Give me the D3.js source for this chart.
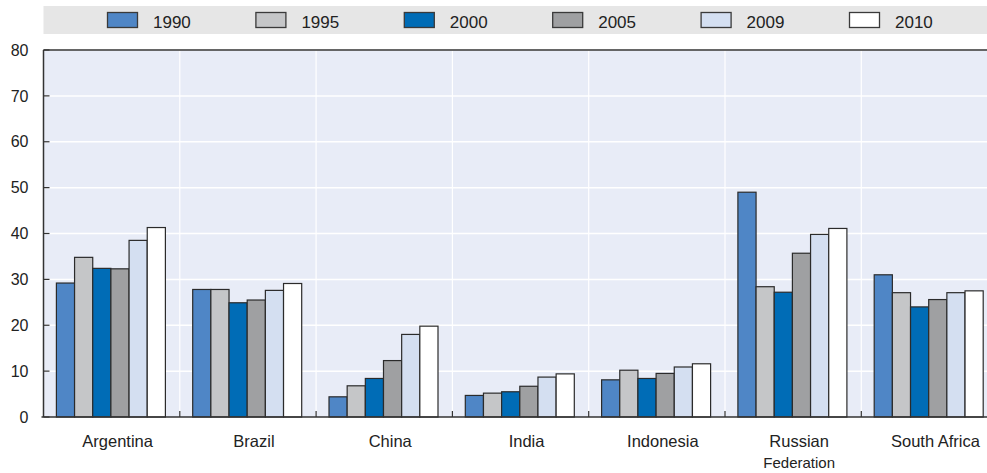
<!DOCTYPE html>
<html>
<head>
<meta charset="utf-8">
<script src="https://cdn.jsdelivr.net/npm/d3@7"></script>
<style>
  body { margin: 0; background: #fff; }
  svg text { font-family: "Liberation Sans", Arial, sans-serif; fill: #222; }
</style>
</head>
<body>
<svg id="chart" width="987" height="473"></svg>
<script>
// data
var countries = ["Argentina", "Brazil", "China", "India", "Indonesia", "Russian\nFederation", "South Africa"];
var years = ["1990", "1995", "2000", "2005", "2009", "2010"];
var v1990 = [29.2, 27.8, 4.4, 4.7, 8.1, 49.0, 31.0];
var v1995 = [34.8, 27.8, 6.8, 5.2, 10.2, 28.4, 27.1];
var v2000 = [32.4, 24.9, 8.4, 5.5, 8.4, 27.2, 24.0];
var v2005 = [32.3, 25.5, 12.3, 6.7, 9.5, 35.7, 25.6];
var v2009 = [38.5, 27.6, 18.0, 8.7, 10.9, 39.8, 27.1];
var v2010 = [41.3, 29.1, 19.8, 9.4, 11.6, 41.1, 27.5];
var yTicks = [0, 10, 20, 30, 40, 50, 60, 70, 80];

var series = [v1990, v1995, v2000, v2005, v2009, v2010];
var colors = ["#4f86c6", "#c5c6c8", "#006cb6", "#9fa0a2", "#d4dff1", "#ffffff"];

var plotLeft = 43.5, plotTop = 50, plotBottom = 417, plotRight = 997.6;

var svg = d3.select("#chart");

//x scales: countries, then years inside a country
var x0 = d3.scaleBand()
    .domain(countries)
    .range([plotLeft, plotRight]);

var x1 = d3.scaleBand()
    .domain(years)
    .range([12.9, x0.bandwidth() - 14.4]);

var y = d3.scaleLinear()
    .domain([0, 80])
    .range([plotBottom, plotTop]);

// plot background
svg.append("rect")
    .attr("x", plotLeft)
    .attr("y", plotTop)
    .attr("width", plotRight - plotLeft)
    .attr("height", plotBottom - plotTop)
    .attr("fill", "#e8ecf7");

// horizontal grid
svg.append("g")
    .selectAll("line")
    .data(yTicks.slice(1))
    .join("line")
    .attr("x1", plotLeft)
    .attr("x2", plotRight)
    .attr("y1", function (d) { return y(d); })
    .attr("y2", function (d) { return y(d); })
    .attr("stroke", "#fff")
    .attr("stroke-width", 1.5);

// vertical grid between countries
svg.append("g")
    .selectAll("line")
    .data(countries.slice(1))
    .join("line")
    .attr("x1", function (d) { return x0(d); })
    .attr("x2", function (d) { return x0(d); })
    .attr("y1", plotTop)
    .attr("y2", plotBottom)
    .attr("stroke", "#fff")
    .attr("stroke-width", 1.2);

// bars
var groups = svg.append("g")
    .selectAll("g")
    .data(countries)
    .join("g")
    .attr("transform", function (d) { return "translate(" + x0(d) + ",0)"; });

groups.selectAll("rect")
    .data(function (c, ci) {
        return years.map(function (yr, si) { return { year: yr, value: series[si][ci], color: colors[si] }; });
    })
    .join("rect")
    .attr("x", function (d) { return x1(d.year); })
    .attr("width", x1.bandwidth())
    .attr("y", function (d) { return y(d.value); })
    .attr("height", function (d) { return plotBottom - y(d.value); })
    .attr("fill", function (d) { return d.color; })
    .attr("stroke", "#2b2b2b")
    .attr("stroke-width", 1.2);

// y axis
var yAxis = d3.axisLeft(y)
    .tickValues(yTicks)
    .tickSize(0)
    .tickPadding(15);

var yG = svg.append("g")
    .attr("transform", "translate(" + plotLeft + ",0)")
    .call(yAxis);
yG.select(".domain").remove();
yG.selectAll("text")
    .attr("font-size", "16px")
    .attr("font-family", null)
    .style("fill", "#222");

// small inner ticks on the y axis
svg.append("g")
    .selectAll("line")
    .data(yTicks)
    .join("line")
    .attr("x1", plotLeft)
    .attr("x2", plotLeft + 6)
    .attr("y1", function (d) { return y(d); })
    .attr("y2", function (d) { return y(d); })
    .attr("stroke", "#333")
    .attr("stroke-width", 1.2);

// small ticks at category boundaries
svg.append("g")
    .selectAll("line")
    .data(countries.slice(1))
    .join("line")
    .attr("x1", function (d) { return x0(d); })
    .attr("x2", function (d) { return x0(d); })
    .attr("y1", plotBottom)
    .attr("y2", plotBottom - 6)
    .attr("stroke", "#333")
    .attr("stroke-width", 1.2);

// frame lines: top, left, bottom
svg.append("line")
    .attr("x1", plotLeft).attr("x2", plotRight)
    .attr("y1", plotTop).attr("y2", plotTop)
    .attr("stroke", "#333").attr("stroke-width", 1.5);
svg.append("line")
    .attr("x1", plotLeft).attr("x2", plotLeft)
    .attr("y1", plotTop).attr("y2", plotBottom)
    .attr("stroke", "#333").attr("stroke-width", 1.5);
svg.append("line")
    .attr("x1", plotLeft - 2).attr("x2", plotRight)
    .attr("y1", plotBottom).attr("y2", plotBottom)
    .attr("stroke", "#333").attr("stroke-width", 1.5);

// category labels
var xLabels = svg.append("g")
    .selectAll("text")
    .data(countries)
    .join("text")
    .attr("x", function (d) { return x0(d) + x0.bandwidth() / 2 + 6; })
    .attr("y", 447)
    .attr("text-anchor", "middle")
    .attr("font-size", "16.5px");

xLabels.selectAll("tspan")
    .data(function (d) { return d.split("\n"); })
    .join("tspan")
    .attr("x", function () { return d3.select(this.parentNode).attr("x"); })
    .attr("dy", function (d, i) { return i === 0 ? 0 : 21; })
    .attr("font-size", function (d, i) { return i === 0 ? "16.5px" : "15px"; })
    .text(function (d) { return d; });

// legend
svg.append("rect")
    .attr("x", plotLeft)
    .attr("y", 6)
    .attr("width", 987 - plotLeft)
    .attr("height", 28)
    .attr("fill", "#e6e6e6");

var legendX = d3.scalePoint()
    .domain(years)
    .range([107.5, 849.5]);

var legend = svg.append("g")
    .selectAll("g")
    .data(years)
    .join("g")
    .attr("transform", function (d) { return "translate(" + legendX(d) + ",0)"; });

legend.append("rect")
    .attr("x", 0)
    .attr("y", 12.5)
    .attr("width", 30)
    .attr("height", 15)
    .attr("fill", function (d, i) { return colors[i]; })
    .attr("stroke", "#3a3a3a")
    .attr("stroke-width", 1.3);

legend.append("text")
    .attr("x", 45.5)
    .attr("y", 27.5)
    .attr("font-size", "17px")
    .text(function (d) { return d; });
</script>
</body>
</html>
